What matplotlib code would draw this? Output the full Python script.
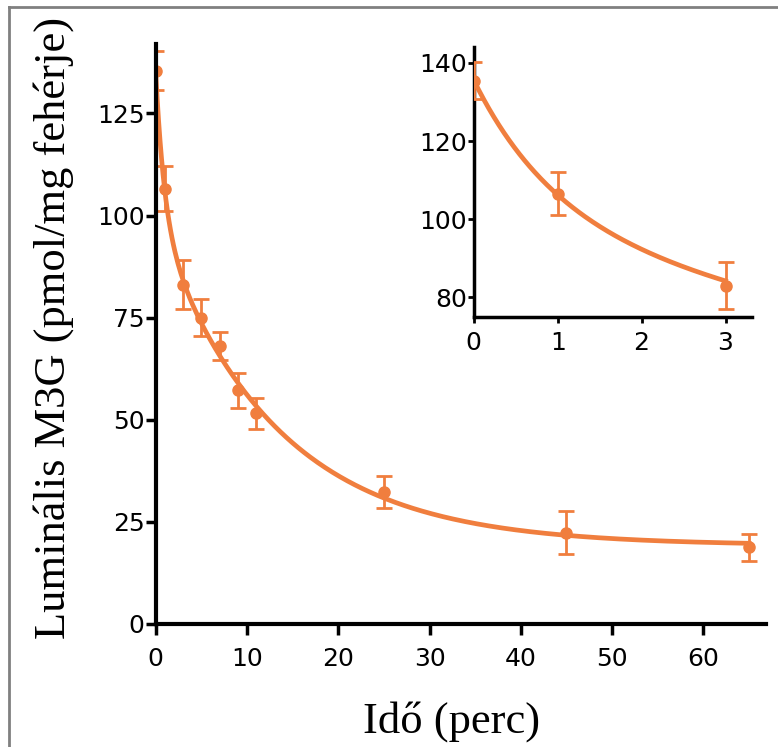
import numpy as np
import matplotlib
matplotlib.use("Agg")
import matplotlib.pyplot as plt
from matplotlib.lines import Line2D

time_min = [0, 1, 3, 5, 7, 9, 11, 25, 45, 65]
m3g = [135.5, 106.6, 83.0, 75.0, 68.0, 57.2, 51.6, 32.2, 22.3, 18.7]
sem = [4.8, 5.5, 6.0, 4.5, 3.4, 4.3, 3.8, 3.9, 5.2, 3.4]

main_xticks = [0, 10, 20, 30, 40, 50, 60]
main_yticks = [0, 25, 50, 75, 100, 125]
inset_xticks = [0, 1, 2, 3]
inset_yticks = [80, 100, 120, 140]

orange = "#F07E3E"

t = np.array(time_min, dtype=float)
y = np.array(m3g)

# two-phase exponential decay fit (grid over rates, linear lstsq for amplitudes)
best = None
for k1 in np.logspace(-1.5, 1, 160):
    for k2 in np.logspace(-3, -0.5, 160):
        if k2 >= k1:
            continue
        A = np.column_stack([np.exp(-k1 * t), np.exp(-k2 * t), np.ones_like(t)])
        coef, *_ = np.linalg.lstsq(A, y, rcond=None)
        sse = np.sum((A @ coef - y) ** 2)
        if best is None or sse < best[0]:
            best = (sse, k1, k2, coef)
_, k1, k2, coef = best


def model(x):
    return coef[0] * np.exp(-k1 * x) + coef[1] * np.exp(-k2 * x) + coef[2]


fig = plt.figure(figsize=(7.78, 7.47), dpi=100)

tick_font = {"family": "DejaVu Sans", "size": 18}
label_font = {"family": "Liberation Serif", "size": 32}

# main panel
ax = fig.add_axes([0.200, 0.165, 0.784, 0.776])
xs = np.linspace(0, 65, 400)
ax.plot(xs, model(xs), color=orange, lw=3.4, zorder=3)
ax.errorbar(t, y, yerr=sem, fmt="o", color=orange, ms=8, elinewidth=2,
            capsize=6, capthick=2, zorder=4)
ax.set_xlim(0, 66.8)
ax.set_ylim(0, 142)
ax.set_xticks(main_xticks)
ax.set_yticks(main_yticks)
for s in ["top", "right"]:
    ax.spines[s].set_visible(False)
for s in ["left", "bottom"]:
    ax.spines[s].set_linewidth(3)
    ax.spines[s].set_zorder(5)
ax.tick_params(axis="y", width=2.5, length=7, pad=1)
ax.tick_params(axis="x", width=2.5, length=8, pad=9)
for lab in ax.get_xticklabels() + ax.get_yticklabels():
    lab.set_fontfamily(tick_font["family"])
    lab.set_fontsize(tick_font["size"])

fig.text(54 / 778, 1 - 328 / 747, "Luminális M3G (pmol/mg fehérje)",
         rotation=90, ha="center", va="center", **label_font)
fig.text(452 / 778, 1 - 722 / 747, "Idő (perc)",
         ha="center", va="center", **label_font)

# inset
ins = fig.add_axes([0.609, 0.5756, 0.357, 0.361])
xi = np.linspace(0, 3, 200)
ins.plot(xi, model(xi), color=orange, lw=3.4, zorder=3)
ins.errorbar(t[:3], y[:3], yerr=sem[:3], fmt="o", color=orange, ms=8,
             elinewidth=2, capsize=6, capthick=2, zorder=4)
ins.set_xlim(0, 3.31)
ins.set_ylim(75, 144)
ins.set_xticks(inset_xticks)
ins.set_yticks(inset_yticks)
for s in ["top", "right"]:
    ins.spines[s].set_visible(False)
for s in ["left", "bottom"]:
    ins.spines[s].set_linewidth(2.5)
ins.tick_params(axis="y", width=2, length=4, pad=1)
ins.tick_params(axis="x", width=2, length=4, pad=6)
for lab in ins.get_xticklabels() + ins.get_yticklabels():
    lab.set_fontfamily(tick_font["family"])
    lab.set_fontsize(tick_font["size"])

# gray frame (top and left edges)
fig.add_artist(Line2D([9 / 778, 9 / 778], [0, 1 - 7 / 747],
                      transform=fig.transFigure, color="#808080", lw=2))
fig.add_artist(Line2D([9 / 778, 1], [1 - 7 / 747, 1 - 7 / 747],
                      transform=fig.transFigure, color="#808080", lw=2))

fig.savefig("out.png", dpi=100)
